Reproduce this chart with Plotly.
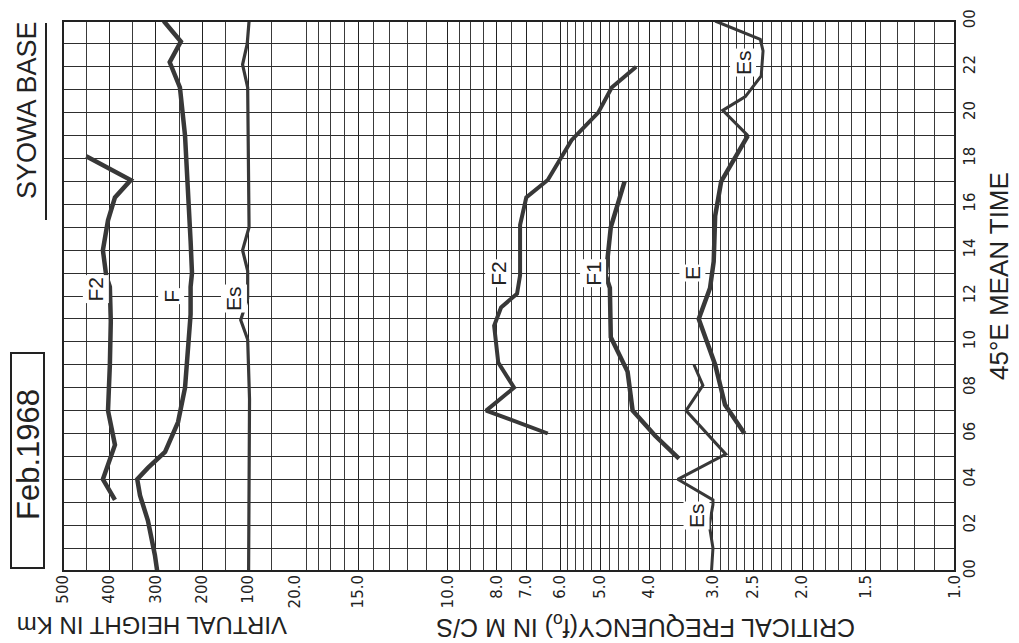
import math
import plotly.graph_objects as go

# ---------------- data ----------------
# Left panel: virtual height (km) vs 45°E mean time (hours)
F_height_time = [0, 0.7, 2.2, 3.3, 4.0, 4.5, 5.2, 6.5, 8.0, 9.9, 11.2, 12.4, 13.0, 14.4, 17.0, 19.0, 21.1, 22.2, 23.1, 24.0]
F_height = [297, 302, 317, 334, 340, 317, 280, 252, 237, 231, 225, 225, 222, 225, 233, 237, 248, 270, 246, 283]

F2_height_time = [3.1, 4.0, 5.5, 7.0, 9.0, 10.9, 12.4, 12.9, 14.0, 15.3, 16.3, 17.06, 18.1]
F2_height = [388, 414, 388, 403, 399, 397, 399, 407, 414, 403, 388, 354, 450]

Es_height_time = [0, 7.5, 10.1, 10.95, 11.9, 13.1, 14.0, 15.0, 21.1, 22.1, 23.0, 24.0]
Es_height = [100, 98, 102, 117, 102, 102, 113, 99, 102, 113, 103, 99]

# Right panel: critical frequency (Mc/s) vs time
F2_freq_time = [6.0, 7.0, 8.0, 9.1, 10.7, 11.5, 12.1, 12.9, 15.1, 16.3, 17.06, 18.8, 20.0, 21.1, 22.0]
F2_freq = [6.35, 8.4, 7.4, 7.95, 8.1, 7.85, 7.3, 7.2, 7.2, 7.0, 6.35, 5.7, 5.05, 4.75, 4.25]

F1_freq_time = [4.9, 5.9, 7.0, 8.7, 10.2, 12.35, 12.9, 15.0, 17.0]
F1_freq = [3.5, 3.9, 4.32, 4.42, 4.77, 4.79, 4.88, 4.77, 4.48]

E_freq_time = [6.0, 7.25, 9.0, 11.0, 12.35, 13.5, 15.5, 17.0, 19.0]
E_freq = [2.6, 2.84, 2.97, 3.2, 3.04, 2.99, 2.97, 2.89, 2.56]

Es_freq_time_a = [0, 1.0, 2.0, 2.9, 3.1, 4.0, 5.1, 7.0, 8.1, 9.0]
Es_freq_a = [3.02, 3.0, 3.05, 3.0, 3.0, 3.52, 2.83, 3.39, 3.14, 3.27]

Es_freq_time_b = [19.0, 20.1, 20.7, 21.6, 22.7, 23.2, 24.0]
Es_freq_b = [2.56, 2.87, 2.59, 2.41, 2.39, 2.42, 2.97]

# axis ticks
height_major = [500, 400, 300, 200, 100]
height_major_text = ["500", "400", "300", "200", "100"]
height_minor = [450, 350, 250, 150, 50]

freq_major = [20, 15, 10, 8, 7, 6, 5, 4, 3, 2.5, 2, 1.5, 1.0]
freq_major_text = ["20.0", "15.0", "10.0", "8.0", "7.0", "6.0", "5.0", "4.0", "3.0", "2.5", "2.0", "1.5", "1.0"]
freq_minor = [19, 18, 17, 16, 14, 13, 12, 11, 9.5, 9, 8.5, 7.5, 6.5, 5.8, 5.6, 5.4, 5.2,
              4.8, 4.6, 4.4, 4.2, 3.8, 3.6, 3.4, 3.2, 2.9, 2.8, 2.7, 2.6, 2.4, 2.3, 2.2, 2.1,
              1.9, 1.8, 1.7, 1.6, 1.4, 1.3, 1.2, 1.1]

time_major = list(range(0, 25, 2))
time_major_text = ["00", "02", "04", "06", "08", "10", "12", "14", "16", "18", "20", "22", "00"]
time_minor = list(range(1, 24, 2))

# ---------------- figure ----------------
W, H = 1019, 643
L, R, T, B = 55, 72, 13, 80
PW, PH = W - L - R, H - T - B
split = (287 - L) / PW

def px(xp):
    return (xp - L) / PW

def py(yp):
    return (H - B - yp) / PH

LINE = "#383838"
fig = go.Figure()

def add(xs, ys, axis, width):
    fig.add_trace(go.Scatter(x=xs, y=ys, mode="lines", xaxis=axis, yaxis="y",
                             line=dict(color=LINE, width=width),
                             showlegend=False, hoverinfo="skip"))

add(F_height, F_height_time, "x", 4.5)
add(F2_height, F2_height_time, "x", 4.5)
add(Es_height, Es_height_time, "x", 3.2)
add(F2_freq, F2_freq_time, "x2", 4.0)
add(F1_freq, F1_freq_time, "x2", 4.5)
add(E_freq, E_freq_time, "x2", 4.5)
add(Es_freq_a, Es_freq_time_a, "x2", 3.0)
add(Es_freq_b, Es_freq_time_b, "x2", 3.0)

TICKFONT = dict(family="DejaVu Sans", size=15, color="#222")
FONT = "Liberation Sans, Arial, sans-serif"

fig.update_layout(
    width=W, height=H,
    margin=dict(l=L, r=R, t=T, b=B, pad=0),
    paper_bgcolor="white", plot_bgcolor="white",
    xaxis=dict(domain=[0, split], range=[500, 0], anchor="y",
               tickmode="array", tickvals=height_major, ticktext=height_major_text,
               tickangle=-90, tickfont=TICKFONT, ticks="", showline=False, zeroline=False,
               showgrid=True, gridcolor="#222", gridwidth=1.3,
               minor=dict(tickvals=height_minor, showgrid=True, gridcolor="#3a3a3a", gridwidth=1, ticks=""),
               automargin=False),
    xaxis2=dict(domain=[split, 1], type="log", range=[math.log10(20), 0], anchor="y",
                tickmode="array", tickvals=freq_major, ticktext=freq_major_text,
                tickangle=-90, tickfont=TICKFONT, ticks="", showline=False, zeroline=False,
                showgrid=True, gridcolor="#222", gridwidth=1.3,
                minor=dict(tickvals=freq_minor, showgrid=True, gridcolor="#3a3a3a", gridwidth=1, ticks=""),
                automargin=False),
    yaxis=dict(domain=[0, 1], range=[0, 24], anchor="x2", side="right",
               tickmode="array", tickvals=time_major, ticktext=time_major_text,
               tickangle=-90, tickfont=dict(family="DejaVu Sans", size=15, color="#222"),
               ticks="", showline=False, zeroline=False,
               showgrid=True, gridcolor="#2e2e2e", gridwidth=1,
               minor=dict(tickvals=time_minor, showgrid=True, gridcolor="#2e2e2e", gridwidth=1, ticks=""),
               automargin=False, ticklabelstandoff=4),
)

# frame around the chart grid
fig.add_shape(type="rect", xref="paper", yref="paper", x0=0, x1=1, y0=0, y1=1,
              line=dict(color="#222", width=2))

# header decorations
fig.add_shape(type="line", xref="paper", yref="paper", x0=px(38), x1=px(38), y0=py(212), y1=py(15),
              line=dict(color="#222", width=2))
fig.add_shape(type="rect", xref="paper", yref="paper", x0=px(3), x1=px(36), y0=py(560), y1=py(345),
              line=dict(color="#222", width=2))

def note(text, x, y, size, angle=-90, xref="paper", yref="paper", bg=None, family=FONT):
    fig.add_annotation(text=text, x=x, y=y, xref=xref, yref=yref, showarrow=False,
                       textangle=angle, font=dict(family=family, size=size, color="#222"),
                       bgcolor=bg, xanchor="center", yanchor="middle", borderpad=1)

note("SYOWA BASE", px(19), py(102), 27)
note("Feb.1968", px(20), py(447), 31)
note("45°E MEAN TIME", px(991), py(268), 26)
note("VIRTUAL HEIGHT IN Km", px(144), py(618), 24, angle=180)
note("CRITICAL FREQUENCY(f<sub>o</sub>) IN M C/S", px(638), py(618), 25, angle=180)

# curve labels
note("F2", 430, 12.3, 21, xref="x", yref="y", bg="white")
note("F", 268, 12.0, 21, xref="x", yref="y", bg="white")
note("Es", 132, 11.9, 21, xref="x", yref="y", bg="white")
note("F2", math.log10(7.97), 13.0, 21, xref="x2", yref="y", bg="white")
note("F1", math.log10(5.18), 13.0, 21, xref="x2", yref="y", bg="white")
note("E", math.log10(3.3), 13.0, 21, xref="x2", yref="y", bg="white")
note("Es", math.log10(2.62), 22.2, 21, xref="x2", yref="y", bg="white")
note("Es", math.log10(3.24), 2.4, 21, xref="x2", yref="y", bg="white")

fig.write_html("out.html")
